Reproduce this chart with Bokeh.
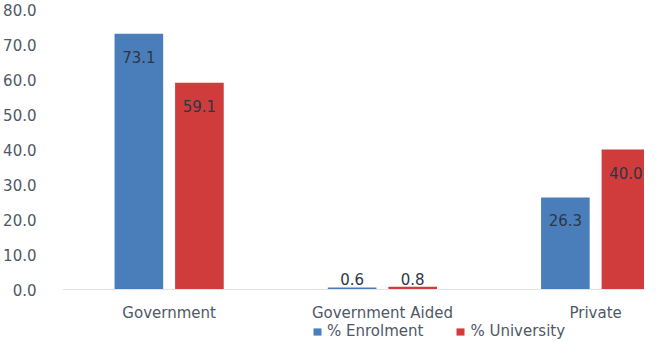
from bokeh.plotting import figure
from bokeh.models import (ColumnDataSource, FixedTicker, NumeralTickFormatter, Legend,
                          LegendItem, Range1d)
from bokeh.core.properties import value
from bokeh.embed import file_html
from bokeh.resources import INLINE

categories = ["Government", "Government Aided", "Private"]
enrolment = [73.1, 0.6, 26.3]
university = [59.1, 0.8, 40.0]
y_ticks = [0, 10, 20, 30, 40, 50, 60, 70, 80]

BLUE = "#4a7ebb"
RED = "#d03c3b"
FONT = "DejaVu Sans"
TXT = "#4f5866"
FS = "15px"

x = list(range(len(categories)))
off = 0.142
bw = 0.228

p = figure(width=644, height=340, output_backend="svg", toolbar_location=None,
           x_range=Range1d(-0.5, 2.229), y_range=Range1d(-14.57, 80),
           min_border_left=60, min_border_right=0, min_border_top=9, min_border_bottom=0)
p.outline_line_color = None
p.grid.grid_line_color = None
p.background_fill_color = "white"
p.border_fill_color = "white"

src_e = ColumnDataSource(dict(x=[i - off for i in x], top=enrolment,
                              lab=["%.1f" % v for v in enrolment]))
src_u = ColumnDataSource(dict(x=[i + off for i in x], top=university,
                              lab=["%.1f" % v for v in university]))

r_e = p.vbar(x="x", top="top", width=bw, source=src_e, fill_color=BLUE, line_color=None)
r_u = p.vbar(x="x", top="top", width=bw, source=src_u, fill_color=RED, line_color=None)

for src, vals in ((src_e, enrolment), (src_u, university)):
    inside = [i for i, v in enumerate(vals) if v >= 5]
    above = [i for i, v in enumerate(vals) if v < 5]
    d = src.data
    s_in = ColumnDataSource(dict(x=[d["x"][i] for i in inside], y=[d["top"][i] for i in inside],
                                 lab=[d["lab"][i] for i in inside]))
    s_ab = ColumnDataSource(dict(x=[d["x"][i] for i in above], y=[d["top"][i] for i in above],
                                 lab=[d["lab"][i] for i in above]))
    p.text(x="x", y="y", text="lab", source=s_in, text_align="center", text_baseline="alphabetic",
           y_offset=23, text_font=value(FONT), text_font_size=FS, text_color="#2e3644")
    p.text(x="x", y="y", text="lab", source=s_ab, text_align="center", text_baseline="alphabetic",
           y_offset=-8, text_font=value(FONT), text_font_size=FS, text_color="#2e3644")

# y axis
p.yaxis.ticker = FixedTicker(ticks=y_ticks)
p.yaxis.formatter = NumeralTickFormatter(format="0.0")
p.yaxis.axis_line_color = None
p.yaxis.major_tick_line_color = None
p.yaxis.minor_tick_line_color = None
p.yaxis.major_label_standoff = 20
p.yaxis.major_label_text_font = FONT
p.yaxis.major_label_text_font_size = FS
p.yaxis.major_label_text_color = TXT

# x axis placed at y=0 inside the frame
p.xaxis.fixed_location = 0
p.xaxis.ticker = FixedTicker(ticks=x)
p.xaxis.major_label_overrides = {i: c for i, c in zip(x, categories)}
p.xaxis.axis_line_color = "#e3e3e3"
p.xaxis.major_tick_line_color = None
p.xaxis.minor_tick_line_color = None
p.xaxis.major_label_standoff = 8
p.xaxis.major_label_text_font = FONT
p.xaxis.major_label_text_font_size = FS
p.xaxis.major_label_text_color = TXT

legend = Legend(items=[LegendItem(label="% Enrolment", renderers=[r_e]),
                       LegendItem(label="% University", renderers=[r_u])],
                orientation="horizontal", location=(250, 0),
                glyph_width=10, glyph_height=9, label_standoff=5, spacing=32,
                padding=0, margin=0, border_line_color=None,
                label_text_font=FONT, label_text_font_size=FS, label_text_color=TXT,
                label_height=15, background_fill_alpha=0)
p.add_layout(legend, "center")

open("out.html", "w").write(file_html(p, INLINE))
